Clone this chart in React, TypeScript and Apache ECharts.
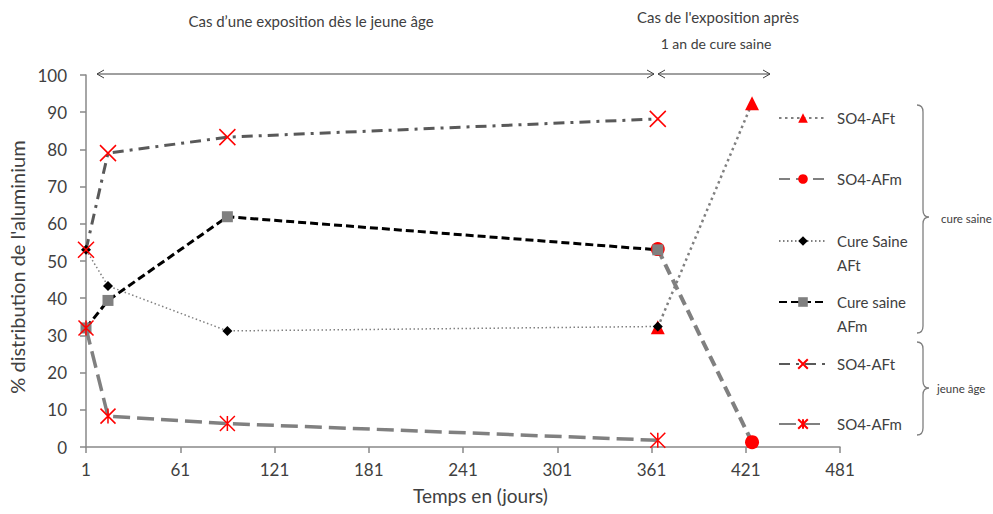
import React, { useEffect, useRef } from 'react';
import * as echarts from 'echarts';

// ---- data ----
const daysYoung = [1, 15, 91, 365];
const daysAfter = [365, 425];
const so4AFtYoung = [53, 79, 83.3, 88.2];
const so4AFmYoung = [32, 8.3, 6.3, 1.8];
const cureAFt = [53, 43.3, 31.2, 32.4];
const cureAFm = [32, 39.4, 61.9, 53];
const so4AFtAfter = [32.2, 92.4];
const so4AFmAfter = [53.2, 1.3];

const seriesNames = [
  'SO4-AFt (cure saine)',
  'SO4-AFm (cure saine)',
  'Cure Saine AFt',
  'Cure saine AFm',
  'SO4-AFt (jeune âge)',
  'SO4-AFm (jeune âge)',
];
const legendLabels = ['SO4-AFt', 'SO4-AFm', 'Cure Saine\nAFt', 'Cure saine\nAFm', 'SO4-AFt', 'SO4-AFm'];
const braceLabels = ['cure saine', 'jeune âge'];
const topNotes = ['Cas d’une exposition dès le jeune âge', "Cas de l'exposition après", '1 an de cure saine'];
const xTitle = 'Temps en (jours)';
const yTitle = "% distribution de l'aluminium";

const FONT = 'Lato, "Liberation Sans", sans-serif';
const TXT = '#404040';

echarts.graphic.registerShape(
  'braceCure',
  echarts.graphic.extendPath(
    'M917,105 Q923,105 923,112 L923,210 Q923,217 929,217 Q923,217 923,224 L923,326 Q923,333 917,333',
    {}
  )
);
echarts.graphic.registerShape(
  'braceYoung',
  echarts.graphic.extendPath(
    'M917,342 Q923,342 923,349 L923,381 Q923,388 929,388 Q923,388 923,395 L923,428 Q923,435 917,435',
    {}
  )
);

const toPairs = (days: number[], vals: number[]) => days.map((d, i) => [d - 1, vals[i]]);

const X_SYM = 'path://M0,0L10,10M10,0L0,10';
const AST_SYM = 'path://M0,0L10,10M10,0L0,10M5,0L5,10';

export default function App() {
  const ref = useRef<HTMLDivElement>(null);

  useEffect(() => {
    if (!ref.current) return;
    const chart = echarts.init(ref.current, undefined, { renderer: 'svg' });

    const series: any[] = [
      {
        name: seriesNames[0],
        type: 'line',
        data: toPairs(daysAfter, so4AFtAfter),
        symbol: 'triangle',
        symbolSize: 14,
        itemStyle: { color: '#ff0000', borderWidth: 0 },
        lineStyle: { color: '#808080', width: 2.5, type: [2.5, 3.5] },
      },
      {
        name: seriesNames[1],
        type: 'line',
        data: toPairs(daysAfter, so4AFmAfter),
        symbol: 'circle',
        symbolSize: 14,
        itemStyle: { color: '#ff0000', borderWidth: 0 },
        lineStyle: { color: '#808080', width: 4, type: [11, 6] },
      },
      {
        name: seriesNames[2],
        type: 'line',
        data: toPairs(daysYoung, cureAFt),
        symbol: 'diamond',
        symbolSize: 10,
        itemStyle: { color: '#000000', borderWidth: 0 },
        lineStyle: { color: '#808080', width: 1.5, type: [1.5, 2.5] },
      },
      {
        name: seriesNames[3],
        type: 'line',
        data: toPairs(daysYoung, cureAFm),
        symbol: 'rect',
        symbolSize: 11,
        itemStyle: { color: '#808080', borderWidth: 0 },
        lineStyle: { color: '#000000', width: 3, type: [8, 4] },
      },
      {
        name: seriesNames[4],
        type: 'line',
        data: toPairs(daysYoung, so4AFtYoung),
        symbol: X_SYM,
        symbolSize: 16,
        itemStyle: { color: '#ff0000', borderColor: '#ff0000', borderWidth: 1.5 },
        lineStyle: { color: '#595959', width: 3, type: [11, 6, 3, 6] },
      },
      {
        name: seriesNames[5],
        type: 'line',
        data: toPairs(daysYoung, so4AFmYoung),
        symbol: AST_SYM,
        symbolSize: 15,
        itemStyle: { color: '#ff0000', borderColor: '#ff0000', borderWidth: 1.5 },
        lineStyle: { color: '#808080', width: 3.5, type: [17, 7] },
      },
    ].map((s) => ({ ...s, silent: true, emphasis: { disabled: true } }));

    // icon centre wanted at 118, 179, 241, 302, 364, 424
    const legendTops = [106, 167, 205, 266, 352, 412];
    const legends = seriesNames.map((n, i) => {
      const twoLine = legendLabels[i].includes('\n');
      return {
        show: true,
        data: [n],
        left: 778,
        top: legendTops[i],
        padding: 0,
        itemWidth: 48,
        itemHeight: 12,
        selectedMode: false,
        formatter: () => (twoLine ? '\n' + legendLabels[i] : legendLabels[i]),
        textStyle: {
          fontFamily: FONT,
          fontSize: 15,
          color: TXT,
          lineHeight: 24,
          padding: [0, 0, 0, 5],
        },
      };
    });

    const arrowStyle = { stroke: '#404040', lineWidth: 1, fill: 'none' };
    const graphic: any[] = [
      { type: 'text', x: 311, y: 21, style: { text: topNotes[0], font: `15px ${FONT}`, fill: TXT, align: 'center', verticalAlign: 'middle' } },
      { type: 'text', x: 718, y: 17, style: { text: topNotes[1], font: `15px ${FONT}`, fill: TXT, align: 'center', verticalAlign: 'middle' } },
      { type: 'text', x: 716, y: 43, style: { text: topNotes[2], font: `14px ${FONT}`, fill: TXT, align: 'center', verticalAlign: 'middle' } },
      { type: 'line', shape: { x1: 97, y1: 74, x2: 654, y2: 74 }, style: arrowStyle },
      { type: 'polyline', shape: { points: [[104, 70], [97, 74], [104, 78]] }, style: arrowStyle },
      { type: 'polyline', shape: { points: [[647, 70], [654, 74], [647, 78]] }, style: arrowStyle },
      { type: 'line', shape: { x1: 658, y1: 74, x2: 770, y2: 74 }, style: arrowStyle },
      { type: 'polyline', shape: { points: [[665, 70], [658, 74], [665, 78]] }, style: arrowStyle },
      { type: 'polyline', shape: { points: [[763, 70], [770, 74], [763, 78]] }, style: arrowStyle },
      { type: 'braceCure', x: 0, y: 0, style: { fill: 'none', stroke: '#7f7f7f', lineWidth: 1.3 } },
      { type: 'braceYoung', x: 0, y: 0, style: { fill: 'none', stroke: '#7f7f7f', lineWidth: 1.3 } },
      { type: 'text', x: 941, y: 218, style: { text: braceLabels[0], font: `11.5px ${FONT}`, fill: TXT, align: 'left', verticalAlign: 'middle' } },
      { type: 'text', x: 937, y: 388, style: { text: braceLabels[1], font: `11.5px ${FONT}`, fill: TXT, align: 'left', verticalAlign: 'middle' } },
    ];

    chart.setOption({
      animation: false,
      backgroundColor: '#ffffff',
      tooltip: { show: false },
      grid: { left: 86, right: 153, top: 75, bottom: 67, containLabel: false, outerBoundsMode: 'none' },
      xAxis: {
        type: 'value',
        min: 0,
        max: 480,
        interval: 60,
        name: xTitle,
        nameLocation: 'middle',
        nameGap: 39,
        nameTextStyle: { fontFamily: FONT, fontSize: 19, color: TXT, padding: [0, 0, 0, 35] },
        axisLine: { show: true, lineStyle: { color: '#898989', width: 1.5 } },
        axisTick: { show: true, inside: false, length: 6, lineStyle: { color: '#898989', width: 1.5 } },
        axisLabel: { fontFamily: FONT, fontSize: 17, color: TXT, margin: 14, formatter: (v: number) => String(v + 1) },
        splitLine: { show: false },
      },
      yAxis: {
        type: 'value',
        min: 0,
        max: 100,
        interval: 10,
        name: yTitle,
        nameLocation: 'middle',
        nameGap: 51,
        nameTextStyle: { fontFamily: FONT, fontSize: 20, color: TXT, padding: [0, 12, 0, 0] },
        axisLine: { show: true, lineStyle: { color: '#898989', width: 1.5 } },
        axisTick: { show: true, inside: false, length: 6, lineStyle: { color: '#898989', width: 1.5 } },
        axisLabel: { fontFamily: FONT, fontSize: 17, color: TXT, margin: 19 },
        splitLine: { show: false },
      },
      legend: legends,
      series,
      graphic,
    });

    return () => chart.dispose();
  }, []);

  return (
    <div
      ref={ref}
      style={{ position: 'absolute', left: 0, top: 0, width: 993, height: 514, background: '#fff' }}
    />
  );
}
